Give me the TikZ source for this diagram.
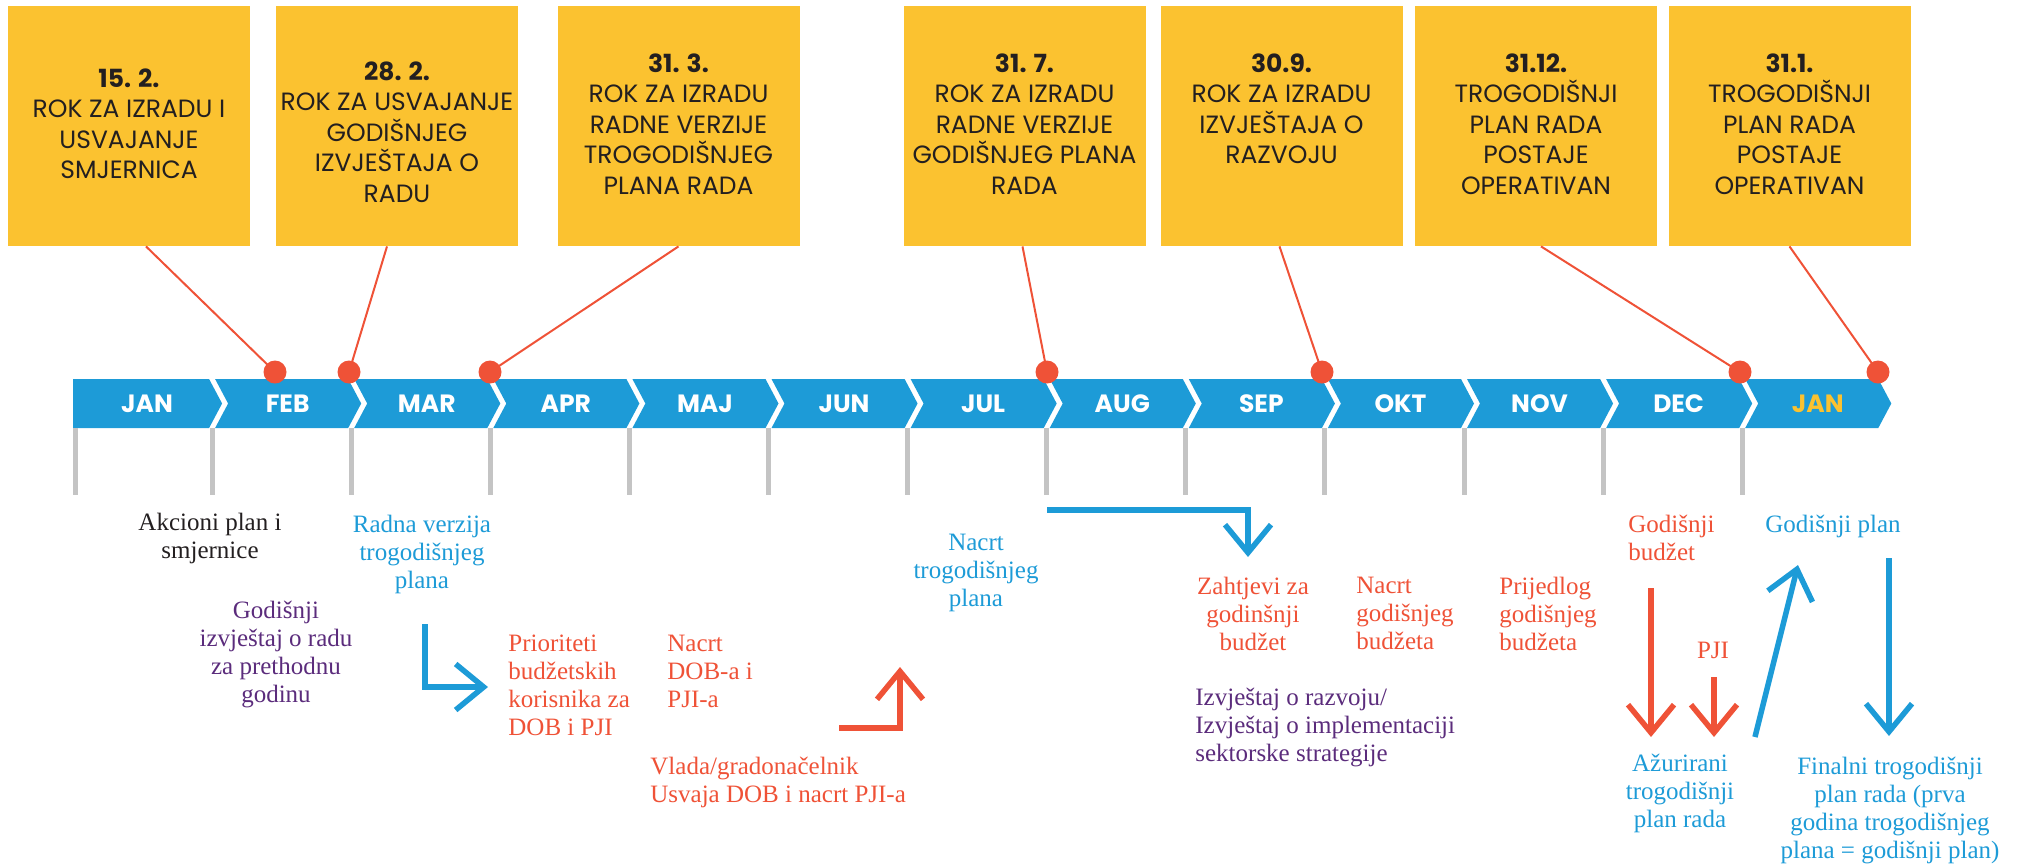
\documentclass[tikz,border=0pt]{standalone}
\usepackage{fontspec}
\setmainfont{Liberation Serif}
\newfontfamily\boxfont{Poppins}
\usetikzlibrary{arrows.meta}

\definecolor{ryellow}{HTML}{FBC230}
\definecolor{rblue}{HTML}{1D9BD7}
\definecolor{rred}{HTML}{EF5237}
\definecolor{rpurple}{HTML}{5B2C7C}
\definecolor{rdark}{HTML}{231F20}
\definecolor{rgray}{HTML}{C4C4C4}

\begin{document}
\begin{tikzpicture}[x=0.5pt,y=-0.5pt,
  ybox/.style={fill=ryellow,minimum width=121pt,minimum height=120pt,inner sep=0pt},
  ytext/.style={font=\boxfont\fontsize{12.5}{15.25}\selectfont,text=rdark,align=center,anchor=north,inner sep=0pt},
  monthlabel/.style={font=\boxfont\bfseries\fontsize{12.5}{14}\selectfont},
  pindot/.style={circle,fill=rred,minimum size=11.5pt,inner sep=0pt},
  pinline/.style={draw=rred,line width=1pt},
  monthtick/.style={draw=rgray,line width=2.5pt},
  note/.style={font=\fontsize{12.5}{14}\selectfont,inner sep=0pt,align=center,anchor=north},
  noteleft/.style={note,align=left,anchor=north west},
  flow/.style={line width=2.75pt,-{Straight Barb[length=14pt,width=23pt]}}]

  \useasboundingbox (0,0) rectangle (2025,864);

  \foreach \mname/\mcol [count=\i from 0] in {JAN/white,FEB/white,MAR/white,APR/white,MAJ/white,JUN/white,JUL/white,AUG/white,SEP/white,OKT/white,NOV/white,DEC/white,JAN/ryellow} {
    \pgfmathsetmacro\xl{\i==0 ? 73 : 76+139.1*\i}
    \pgfmathsetmacro\xn{\i==0 ? 0 : 13}
    \pgfmathsetmacro\xr{70+139.1*(\i+1)}
    \pgfmathsetmacro\xt{\i==0 ? 75.5 : 73+139.1*\i}
    \fill[rblue] (\xl,379) -- (\xr,379) -- (\xr+13,403.5) -- (\xr,428) -- (\xl,428) -- (\xl+\xn,403.5) -- cycle;
    \draw[monthtick] (\xt,428) -- (\xt,495);
    \node[monthlabel,text=\mcol] (m\i) at ({(\xl+\xr)/2+6},404) {\mname};
  }

  \node[ybox] (box1) at (129,126) {};
  \node[ybox] (box2) at (397,126) {};
  \node[ybox] (box3) at (678.5,126) {};
  \node[ybox] (box4) at (1024.5,126) {};
  \node[ybox] (box5) at (1281.5,126) {};
  \node[ybox] (box6) at (1536,126) {};
  \node[ybox] (box7) at (1789.5,126) {};

  \node[ytext] (rok1) at (129,68) {\textbf{15. 2.}\\ROK ZA IZRADU I\\USVAJANJE\\SMJERNICA};
  \node[ytext] (rok2) at (397,61) {\textbf{28. 2.}\\ROK ZA USVAJANJE\\GODIŠNJEG\\IZVJEŠTAJA O\\RADU};
  \node[ytext] (rok3) at (678.5,53) {\textbf{31. 3.}\\ROK ZA IZRADU\\RADNE VERZIJE\\TROGODIŠNJEG\\PLANA RADA};
  \node[ytext] (rok4) at (1024.5,53) {\textbf{31. 7.}\\ROK ZA IZRADU\\RADNE VERZIJE\\GODIŠNJEG PLANA\\RADA};
  \node[ytext] (rok5) at (1281.5,53) {\textbf{30.9.}\\ROK ZA IZRADU\\IZVJEŠTAJA O\\RAZVOJU};
  \node[ytext] (rok6) at (1536,53) {\textbf{31.12.}\\TROGODIŠNJI\\PLAN RADA\\POSTAJE\\OPERATIVAN};
  \node[ytext] (rok7) at (1789.5,53) {\textbf{31.1.}\\TROGODIŠNJI\\PLAN RADA\\POSTAJE\\OPERATIVAN};

  \draw[pinline] ([xshift=8.5pt]box1.south) -- (275,372) node[pindot] (d1) {};
  \draw[pinline] ([xshift=-5pt]box2.south) -- (349,372) node[pindot] (d2) {};
  \draw[pinline] (box3.south) -- (490,372) node[pindot] (d3) {};
  \draw[pinline] ([xshift=-1pt]box4.south) -- (1047,372) node[pindot] (d4) {};
  \draw[pinline] ([xshift=-1pt]box5.south) -- (1322,372) node[pindot] (d5) {};
  \draw[pinline] ([xshift=2.5pt]box6.south) -- (1740,372) node[pindot] (d6) {};
  \draw[pinline] (box7.south) -- (1878,372) node[pindot] (d7) {};

  \node[note,text=rdark] (akcioni) at (210,513) {Akcioni plan i\\smjernice};
  \node[note,text=rblue] (radna) at (422,515) {Radna verzija\\trogodišnjeg\\plana};
  \node[note,text=rpurple] (izvrad) at (276,601) {Godišnji\\izvještaj o radu\\za prethodnu\\godinu};
  \node[noteleft,text=rred] (prior) at (508,635) {Prioriteti\\budžetskih\\korisnika za\\DOB i PJI};
  \node[noteleft,text=rred] (nacrtdob) at (667,635) {Nacrt\\DOB-a i\\PJI-a};
  \node[noteleft,text=rred] (vlada) at (650,757) {Vlada/gradonačelnik\\Usvaja DOB i nacrt PJI-a};
  \node[note,text=rblue] (nacrttro) at (976,534) {Nacrt\\trogodišnjeg\\plana};
  \node[note,text=rred] (zahtjevi) at (1253,577) {Zahtjevi za\\godinšnji\\budžet};
  \node[noteleft,text=rred] (nacrtbud) at (1356,577) {Nacrt\\godišnjeg\\budžeta};
  \node[noteleft,text=rred] (prijedlog) at (1499,577) {Prijedlog\\godišnjeg\\budžeta};
  \node[noteleft,text=rpurple] (razvoj) at (1195,688) {Izvještaj o razvoju/\\Izvještaj o implementaciji\\sektorske strategije};
  \node[noteleft,text=rred] (godbud) at (1628,515) {Godišnji\\budžet};
  \node[note,text=rblue] (godplan) at (1833,515) {Godišnji plan};
  \node[note,text=rred] (pji) at (1713,642) {PJI};
  \node[note,text=rblue] (azurirani) at (1680,754) {Ažurirani\\trogodišnji\\plan rada};
  \node[note,text=rblue] (finalni) at (1890,757) {Finalni trogodišnji\\plan rada (prva\\godina trogodišnjeg\\plana = godišnji plan)};

  \coordinate (f1a) at (425,624);
  \coordinate (f1b) at (488,687);
  \coordinate (f2a) at (839,728);
  \coordinate (f2b) at (900,667);
  \coordinate (f3a) at (1047,510);
  \coordinate (f3b) at (1248,557);
  \coordinate (f4a) at (1651,588);
  \coordinate (f4b) at (1651,737);
  \coordinate (f5a) at (1714,677);
  \coordinate (f5b) at (1714,737);
  \coordinate (f6a) at (1755,737);
  \coordinate (f6b) at (1798,565);
  \coordinate (f7a) at (1889,558);
  \coordinate (f7b) at (1889,736);

  \draw[flow,rblue] (f1a) |- (f1b);
  \draw[flow,rred] (f2a) -| (f2b);
  \draw[flow,rblue] (f3a) -| (f3b);
  \draw[flow,rred] (f4a) -- (f4b);
  \draw[flow,rred] (f5a) -- (f5b);
  \draw[flow,rblue] (f6a) -- (f6b);
  \draw[flow,rblue] (f7a) -- (f7b);

\end{tikzpicture}
\end{document}
